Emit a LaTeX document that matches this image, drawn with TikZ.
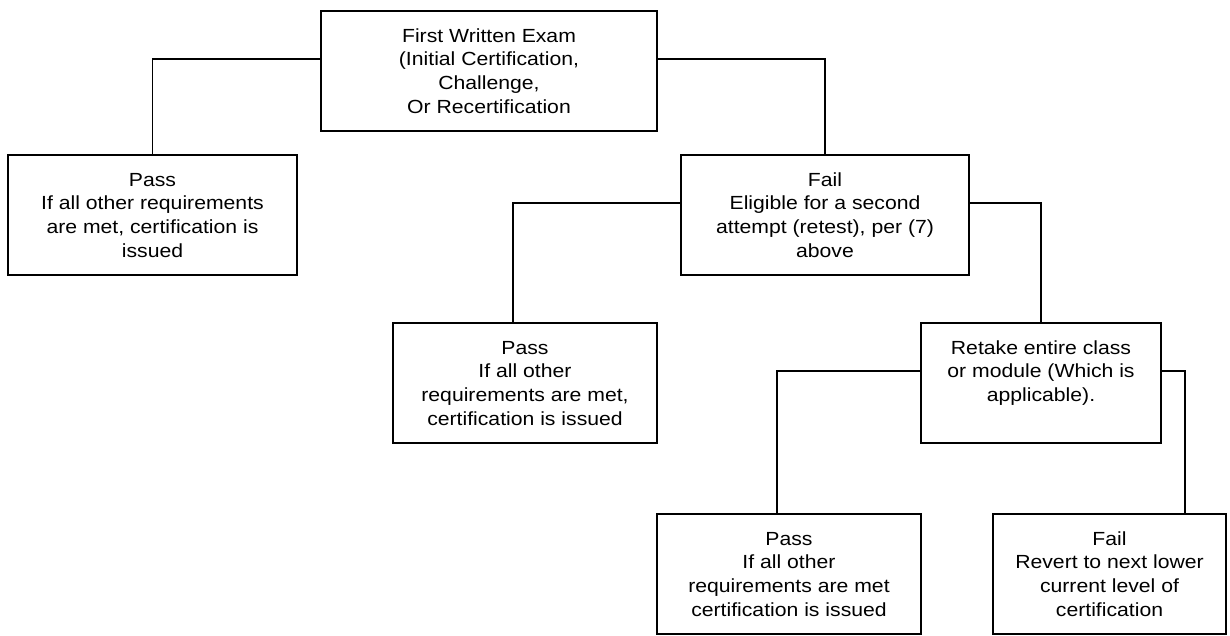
\documentclass[tikz,border=0pt]{standalone}
\usepackage{fontspec}
\setmainfont{Liberation Sans}[FakeStretch=1.115]
\newcommand{\btext}[2]{\parbox[c][120pt][t]{#1}{\centering\fontsize{19pt}{23.7pt}\selectfont\rule{0pt}{31.2pt}#2}}
\tikzset{
  box/.style={draw, line width=1.5pt, inner sep=0pt, rectangle},
  link/.style={line width=1.5pt}
}
\begin{document}
\begin{tikzpicture}[x=1pt,y=-1pt]
\useasboundingbox (0,0) rectangle (1230,635);
\node[box] (top) at (489,71) {\btext{336pt}{First Written Exam\\(Initial Certification,\\Challenge,\\Or Recertification}};
\node[box] (passL) at (152.5,215) {\btext{289pt}{Pass\\If all other requirements\\are met, certification is\\issued}};
\node[box] (fail) at (825,215) {\btext{288pt}{Fail\\Eligible for a second\\attempt (retest), per (7)\\above}};
\node[box] (passM) at (525,383) {\btext{264pt}{Pass\\If all other\\requirements are met,\\certification is issued}};
\node[box] (retake) at (1041,383) {\btext{240pt}{Retake entire class\\or module (Which is\\applicable).}};
\node[box] (passB) at (789,574) {\btext{264pt}{Pass\\If all other\\requirements are met\\certification is issued}};
\node[box] (failB) at (1109.5,574) {\btext{233pt}{Fail\\Revert to next lower\\current level of\\certification}};
\draw[link] ([yshift=12pt]top.west) -| (passL.north);
\draw[link] ([yshift=12pt]top.east) -| (fail.north);
\draw[link] ([yshift=12pt]fail.west) -| ([xshift=-12pt]passM.north);
\draw[link] ([yshift=12pt]fail.east) -| (retake.north);
\draw[link] ([yshift=12pt]retake.west) -| ([xshift=-12pt]passB.north);
\draw[link] ([yshift=12pt]retake.east) -| ([xshift=75.5pt]failB.north);
\end{tikzpicture}
\end{document}
